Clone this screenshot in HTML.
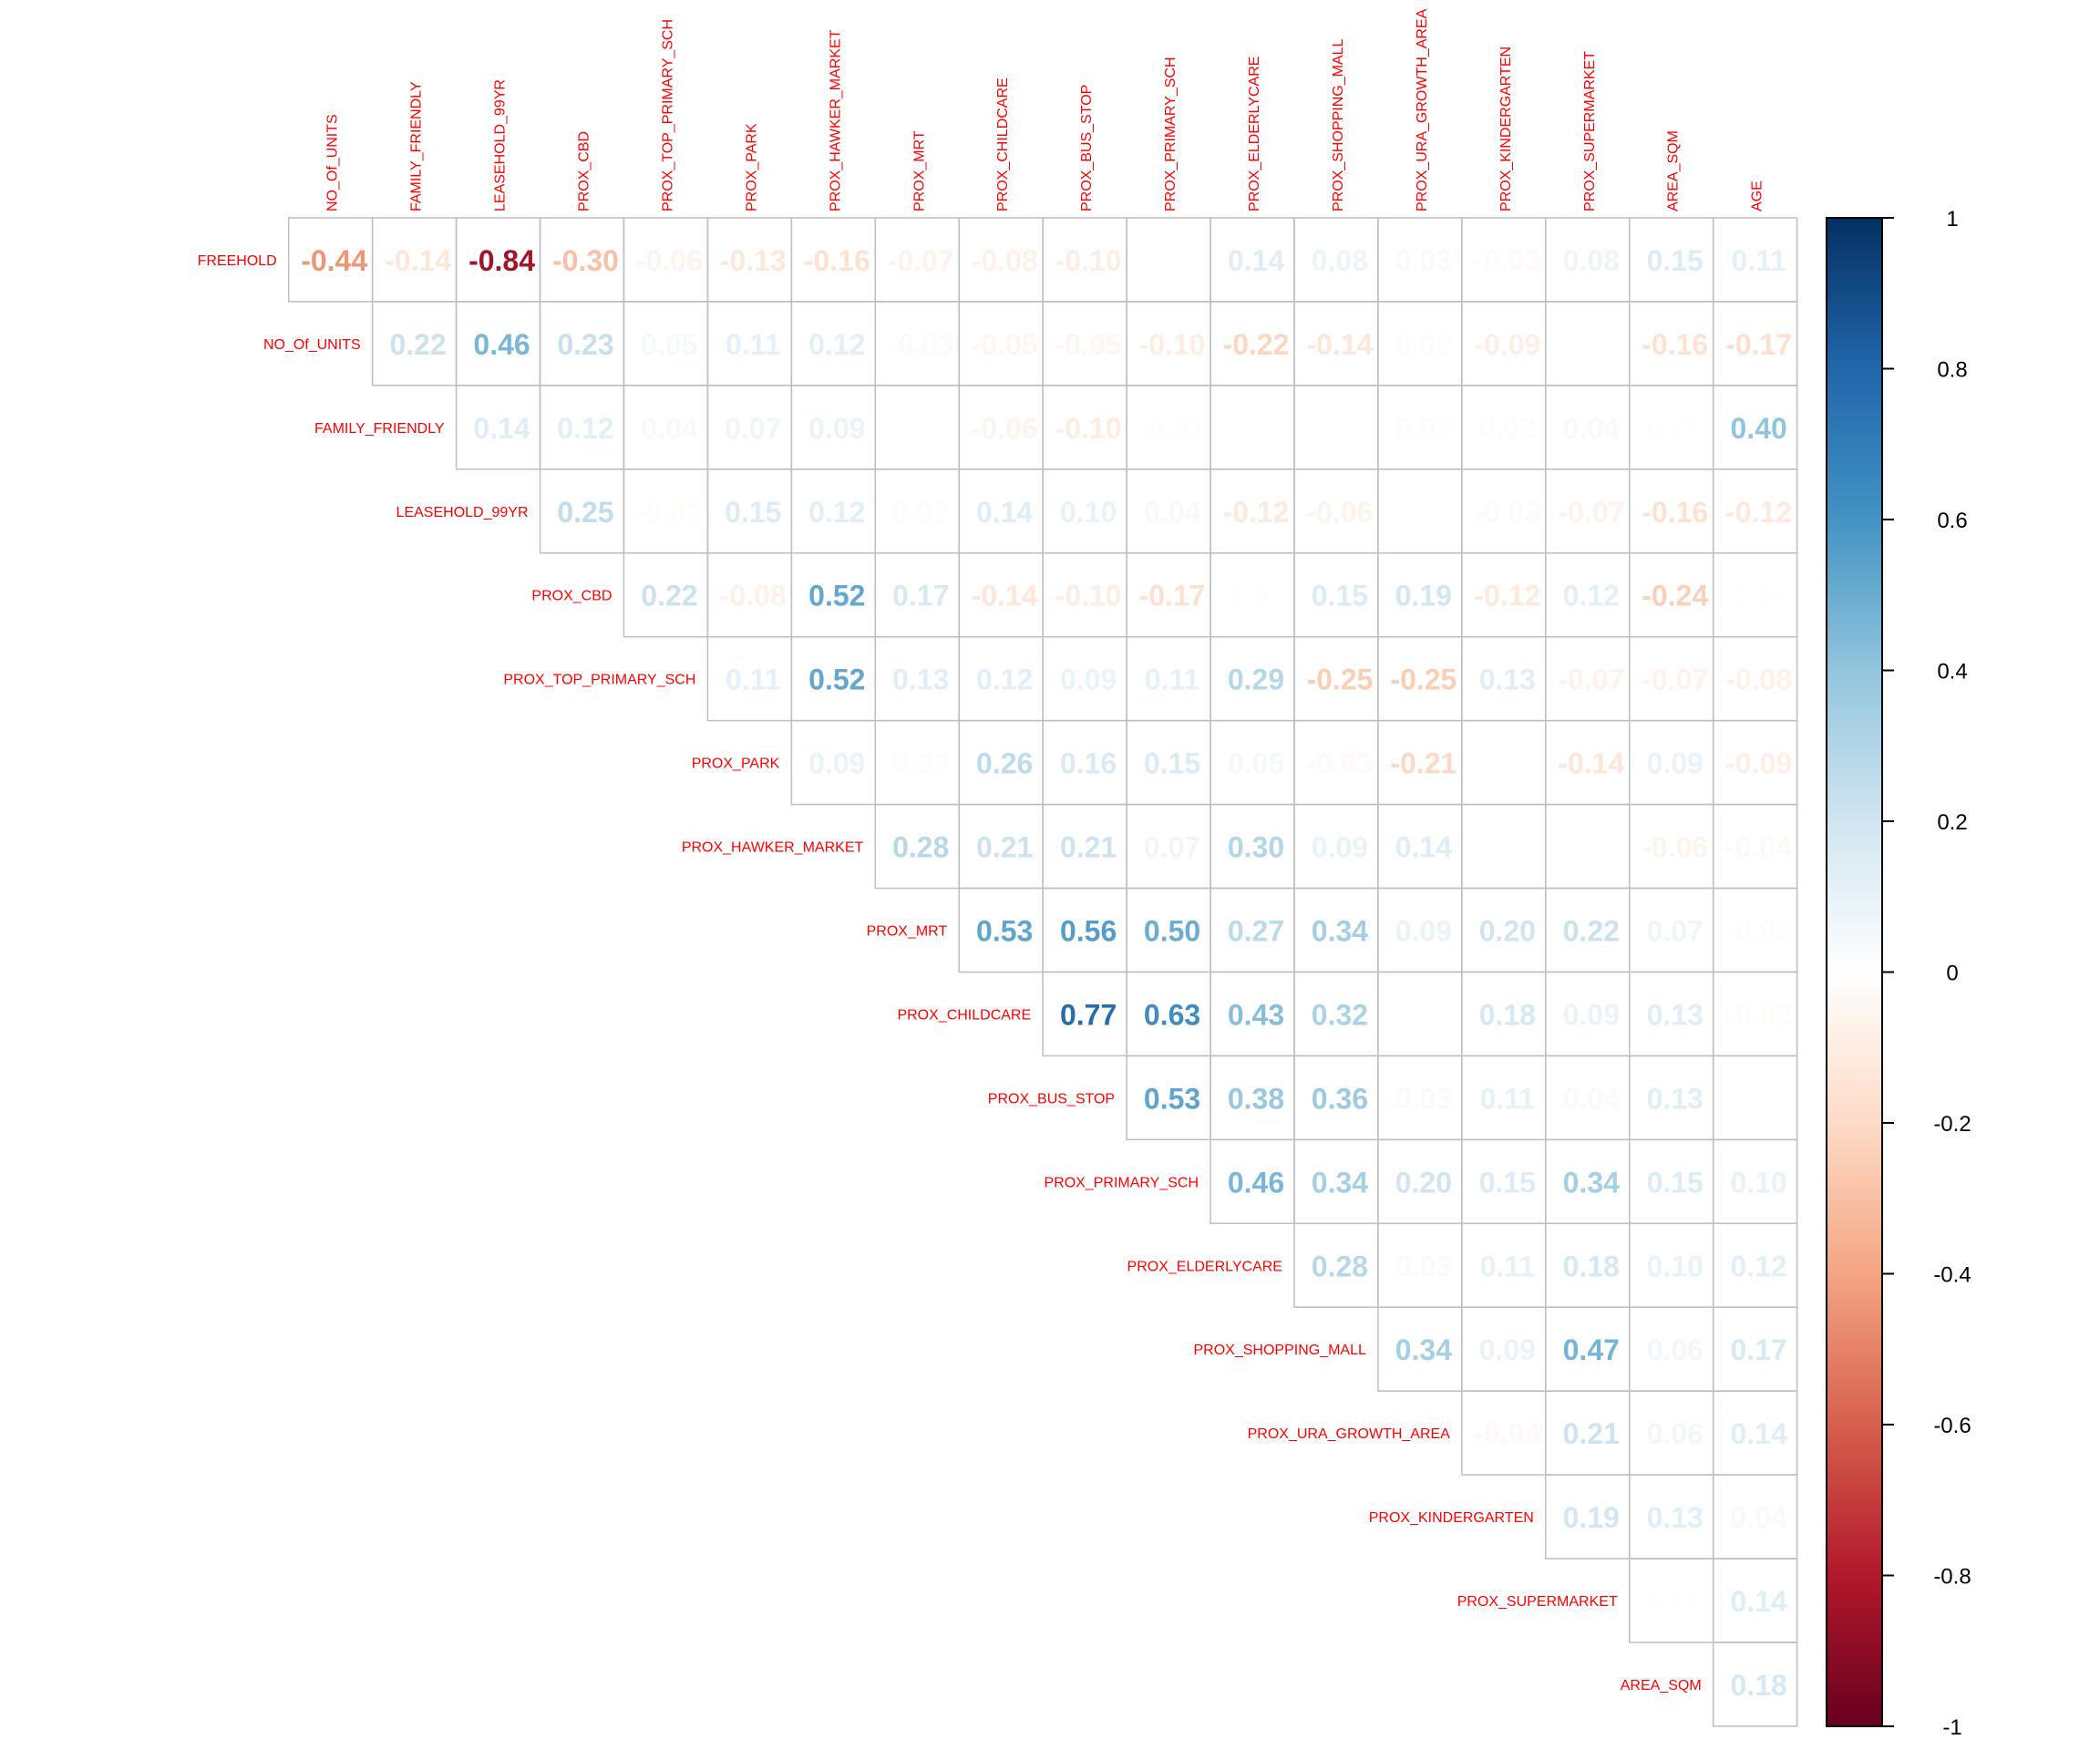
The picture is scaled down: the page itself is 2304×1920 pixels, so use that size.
<!DOCTYPE html>
<html><head><meta charset="utf-8"><style>
html,body{margin:0;padding:0;background:#fff;}
svg{display:block;}
</style></head><body>
<svg id="s" width="2304" height="1920" xmlns="http://www.w3.org/2000/svg" font-family="Liberation Sans, Arial, sans-serif">
<defs><linearGradient id="g" x1="0" y1="1" x2="0" y2="0">
<stop offset="0" stop-color="#67001F"/><stop offset="0.1" stop-color="#B2182B"/><stop offset="0.2" stop-color="#D6604D"/><stop offset="0.3" stop-color="#F4A582"/><stop offset="0.4" stop-color="#FDDBC7"/><stop offset="0.5" stop-color="#FFFFFF"/><stop offset="0.6" stop-color="#D1E5F0"/><stop offset="0.7" stop-color="#92C5DE"/><stop offset="0.8" stop-color="#4393C3"/><stop offset="0.9" stop-color="#2166AC"/><stop offset="1" stop-color="#053061"/>
</linearGradient></defs>
</svg>
<script>
var rows=["FREEHOLD","NO_Of_UNITS","FAMILY_FRIENDLY","LEASEHOLD_99YR","PROX_CBD","PROX_TOP_PRIMARY_SCH","PROX_PARK","PROX_HAWKER_MARKET","PROX_MRT","PROX_CHILDCARE","PROX_BUS_STOP","PROX_PRIMARY_SCH","PROX_ELDERLYCARE","PROX_SHOPPING_MALL","PROX_URA_GROWTH_AREA","PROX_KINDERGARTEN","PROX_SUPERMARKET","AREA_SQM"];
var cols=["NO_Of_UNITS","FAMILY_FRIENDLY","LEASEHOLD_99YR","PROX_CBD","PROX_TOP_PRIMARY_SCH","PROX_PARK","PROX_HAWKER_MARKET","PROX_MRT","PROX_CHILDCARE","PROX_BUS_STOP","PROX_PRIMARY_SCH","PROX_ELDERLYCARE","PROX_SHOPPING_MALL","PROX_URA_GROWTH_AREA","PROX_KINDERGARTEN","PROX_SUPERMARKET","AREA_SQM","AGE"];
var V=[
[-0.44,-0.14,-0.84,-0.30,-0.06,-0.13,-0.16,-0.07,-0.08,-0.10,0.00,0.14,0.08,0.03,-0.03,0.08,0.15,0.11],
[0.22,0.46,0.23,0.05,0.11,0.12,-0.03,-0.05,-0.05,-0.10,-0.22,-0.14,0.02,-0.09,0.00,-0.16,-0.17],
[0.14,0.12,0.04,0.07,0.09,0.00,-0.06,-0.10,-0.01,0.00,0.00,0.02,0.02,0.04,0.01,0.40],
[0.25,-0.02,0.15,0.12,0.02,0.14,0.10,0.04,-0.12,-0.06,0.00,-0.03,-0.07,-0.16,-0.12],
[0.22,-0.08,0.52,0.17,-0.14,-0.10,-0.17,0.01,0.15,0.19,-0.12,0.12,-0.24,0.01],
[0.11,0.52,0.13,0.12,0.09,0.11,0.29,-0.25,-0.25,0.13,-0.07,-0.07,-0.08],
[0.09,0.02,0.26,0.16,0.15,0.05,-0.03,-0.21,0.00,-0.14,0.09,-0.09],
[0.28,0.21,0.21,0.07,0.30,0.09,0.14,0.00,0.00,-0.06,-0.04],
[0.53,0.56,0.50,0.27,0.34,0.09,0.20,0.22,0.07,-0.02],
[0.77,0.63,0.43,0.32,0.00,0.18,0.09,0.13,-0.02],
[0.53,0.38,0.36,0.03,0.11,0.04,0.13,0.00],
[0.46,0.34,0.20,0.15,0.34,0.15,0.10],
[0.28,0.03,0.11,0.18,0.10,0.12],
[0.34,0.09,0.47,0.06,0.17],
[-0.04,0.21,0.06,0.14],
[0.19,0.13,0.04],
[0.01,0.14],
[0.18]];
var stops=["#67001F","#B2182B","#D6604D","#F4A582","#FDDBC7","#FFFFFF","#D1E5F0","#92C5DE","#4393C3","#2166AC","#053061"];
function hx(c){return [parseInt(c.substr(1,2),16),parseInt(c.substr(3,2),16),parseInt(c.substr(5,2),16)];}
function col(v){var t=(v+1)/2*10;var i=Math.min(9,Math.floor(t));var f=t-i;var a=hx(stops[i]),b=hx(stops[i+1]);
return "rgb("+a.map(function(x,k){return Math.round(x+(b[k]-x)*f);}).join(",")+")";}
var X0=316.7,Y0=239,C=91.94,h="";
for(var j=0;j<18;j++){var cx=X0+C*(j+0.5);
h+='<text transform="translate('+(cx+7)+',232) rotate(-90)" font-size="16" fill="#FF0000">'+cols[j]+'</text>';}
for(var i=0;i<18;i++){var cy=Y0+C*(i+0.5);
h+='<text x="'+(X0+C*i-13)+'" y="'+(cy+6)+'" font-size="16" fill="#FF0000" text-anchor="end">'+rows[i]+'</text>';
for(var j=i;j<18;j++){var v=V[i][j-i];var x=X0+C*j,y=Y0+C*i;
h+='<rect x="'+x+'" y="'+y+'" width="'+C+'" height="'+C+'" fill="none" stroke="#BEBEBE" stroke-width="1.5"/>';
h+='<text x="'+(x+C/2+4)+'" y="'+(cy+12)+'" font-size="32" font-weight="bold" fill="'+col(v)+'" text-anchor="middle">'+v.toFixed(2)+'</text>';}}
h+='<rect x="2004" y="239" width="61" height="1655" fill="url(#g)" stroke="#000" stroke-width="2"/>';
for(var k=0;k<=10;k++){var val=1-k*0.2;var y=239+1655*k/10;
h+='<line x1="2065" y1="'+y+'" x2="2078" y2="'+y+'" stroke="#000" stroke-width="2"/>';
var lab=Math.abs(val)<1e-9?"0":(Math.abs(Math.abs(val)-1)<1e-9?(val>0?"1":"-1"):val.toFixed(1));
h+='<text x="2142" y="'+(y+9)+'" font-size="24" fill="#000" text-anchor="middle">'+lab+'</text>';}
document.getElementById("s").insertAdjacentHTML("beforeend",h);
</script>
</body></html>
